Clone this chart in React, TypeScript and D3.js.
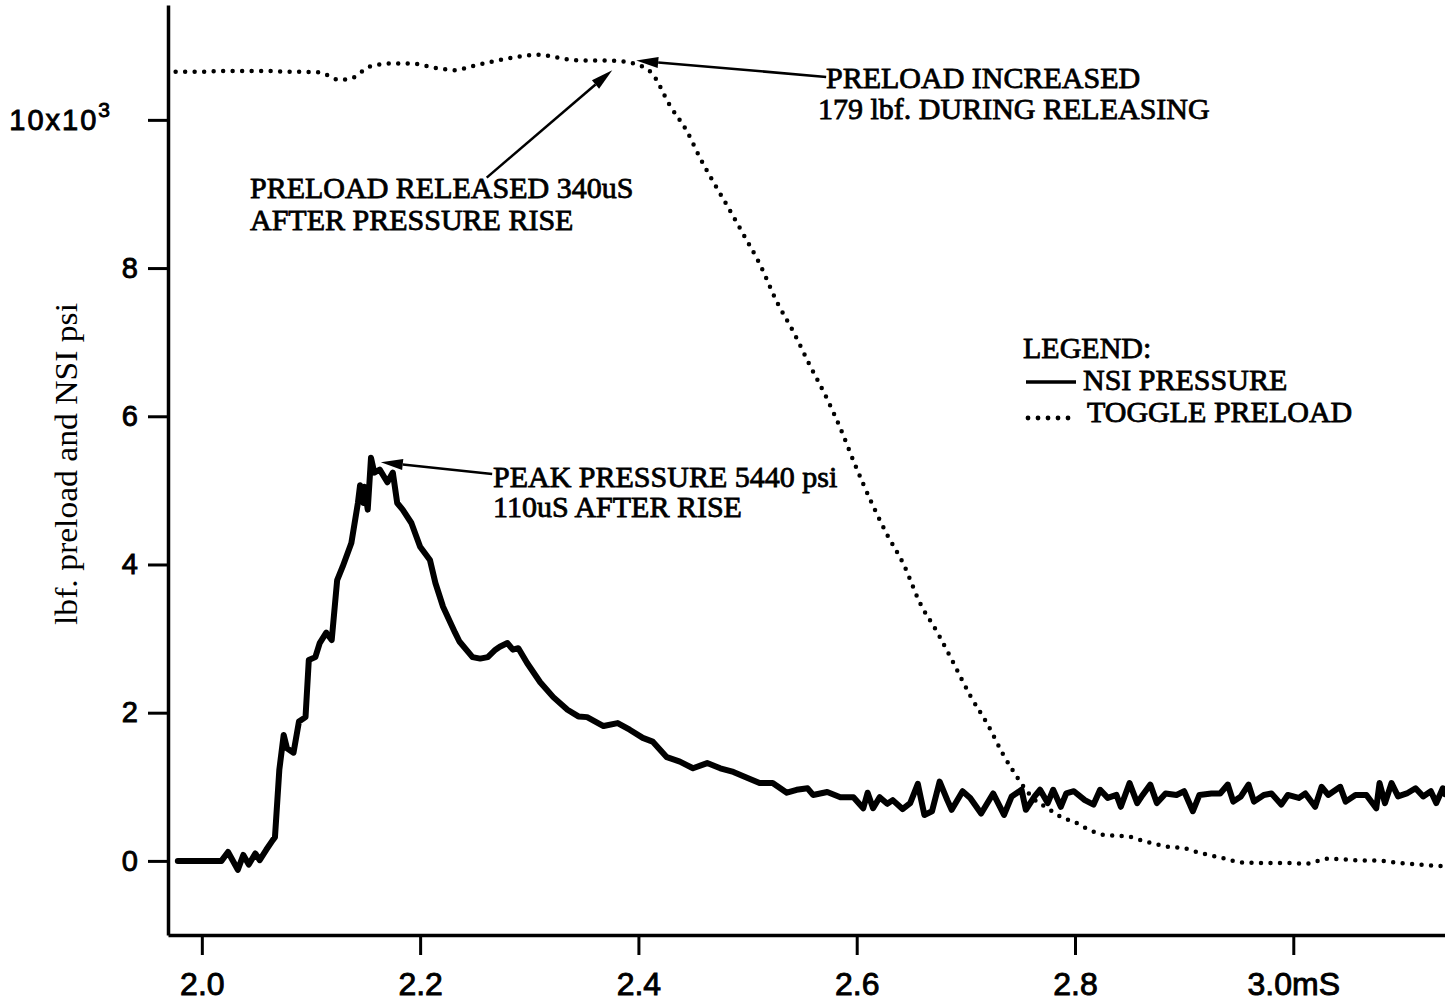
import React, { useRef, useEffect } from 'react';
import * as d3 from 'd3';

// NSI pressure trace: [time mS, pressure in 10^3 psi]
const nsiPressure: [number, number][] = [
  [1.978, 0.00], [1.998, 0.00], [2.018, 0.00], [2.024, 0.12], [2.033, -0.12], [2.038, 0.08],
  [2.043, -0.05], [2.049, 0.10], [2.053, 0.01], [2.059, 0.15], [2.065, 0.28], [2.067, 0.32],
  [2.071, 1.23], [2.075, 1.70], [2.078, 1.52], [2.084, 1.46], [2.089, 1.88], [2.095, 1.94],
  [2.098, 2.71], [2.104, 2.75], [2.108, 2.94], [2.114, 3.08], [2.119, 2.98], [2.124, 3.79],
  [2.129, 3.97], [2.137, 4.29], [2.143, 4.83], [2.145, 5.07], [2.148, 4.83], [2.149, 5.05],
  [2.152, 4.74], [2.155, 5.44], [2.158, 5.24], [2.163, 5.28], [2.170, 5.11], [2.175, 5.24],
  [2.179, 4.83], [2.184, 4.74], [2.192, 4.56], [2.200, 4.24], [2.209, 4.06], [2.214, 3.75],
  [2.221, 3.43], [2.232, 3.08], [2.236, 2.96], [2.248, 2.75], [2.255, 2.73], [2.262, 2.75],
  [2.269, 2.85], [2.273, 2.89], [2.280, 2.94], [2.285, 2.85], [2.290, 2.87], [2.298, 2.67],
  [2.310, 2.41], [2.322, 2.21], [2.335, 2.04], [2.345, 1.95], [2.353, 1.94], [2.368, 1.82],
  [2.381, 1.86], [2.392, 1.77], [2.404, 1.66], [2.413, 1.61], [2.426, 1.40], [2.438, 1.34],
  [2.450, 1.25], [2.463, 1.32], [2.475, 1.25], [2.487, 1.20], [2.500, 1.12], [2.511, 1.05],
  [2.523, 1.05], [2.536, 0.92], [2.545, 0.96], [2.555, 0.98], [2.560, 0.89], [2.573, 0.93],
  [2.585, 0.86], [2.597, 0.86], [2.606, 0.71], [2.610, 0.92], [2.615, 0.71], [2.621, 0.86],
  [2.628, 0.77], [2.633, 0.82], [2.642, 0.70], [2.649, 0.78], [2.656, 1.04], [2.662, 0.62],
  [2.669, 0.67], [2.676, 1.07], [2.683, 0.82], [2.687, 0.69], [2.697, 0.94], [2.704, 0.85],
  [2.714, 0.64], [2.725, 0.91], [2.735, 0.62], [2.742, 0.87], [2.751, 0.96], [2.755, 0.69],
  [2.763, 0.87], [2.768, 0.96], [2.775, 0.78], [2.780, 0.96], [2.787, 0.73], [2.792, 0.91],
  [2.799, 0.94], [2.809, 0.82], [2.817, 0.76], [2.823, 0.96], [2.830, 0.85], [2.838, 0.89],
  [2.842, 0.73], [2.850, 1.05], [2.857, 0.78], [2.862, 0.89], [2.869, 1.03], [2.875, 0.78],
  [2.883, 0.91], [2.893, 0.89], [2.900, 0.94], [2.908, 0.67], [2.914, 0.89], [2.925, 0.91],
  [2.933, 0.91], [2.940, 1.03], [2.945, 0.80], [2.952, 0.87], [2.959, 1.03], [2.964, 0.80],
  [2.973, 0.89], [2.980, 0.91], [2.989, 0.76], [2.995, 0.89], [3.005, 0.85], [3.011, 0.91],
  [3.020, 0.73], [3.026, 1.00], [3.032, 0.89], [3.043, 1.00], [3.048, 0.80], [3.057, 0.89],
  [3.067, 0.89], [3.076, 0.71], [3.079, 1.05], [3.084, 0.78], [3.090, 1.05], [3.096, 0.87],
  [3.104, 0.91], [3.112, 0.98], [3.119, 0.87], [3.126, 0.94], [3.131, 0.78], [3.137, 0.98],
  [3.139, 0.90],
];

// toggle preload: [time mS, preload in 10^3 lbf]
const togglePreload: [number, number][] = [
  [1.976, 10.65], [1.998, 10.65], [2.026, 10.66], [2.053, 10.66], [2.081, 10.65], [2.108, 10.64],
  [2.126, 10.54], [2.137, 10.56], [2.154, 10.72], [2.174, 10.76], [2.191, 10.76], [2.215, 10.70],
  [2.232, 10.67], [2.247, 10.72], [2.264, 10.78], [2.289, 10.85], [2.309, 10.88], [2.322, 10.85],
  [2.338, 10.81], [2.355, 10.80], [2.375, 10.80], [2.390, 10.78], [2.411, 10.65], [2.429, 10.19],
  [2.445, 9.83], [2.456, 9.50], [2.468, 9.18], [2.481, 8.85], [2.496, 8.46], [2.511, 8.06],
  [2.527, 7.54], [2.542, 7.14], [2.557, 6.69], [2.573, 6.23], [2.585, 5.84], [2.597, 5.40],
  [2.615, 4.79], [2.628, 4.40], [2.643, 4.00], [2.658, 3.48], [2.674, 3.08], [2.688, 2.69],
  [2.704, 2.23], [2.720, 1.84], [2.734, 1.44], [2.743, 1.22], [2.753, 1.00], [2.762, 0.84],
  [2.775, 0.71], [2.789, 0.58], [2.799, 0.53], [2.809, 0.45], [2.827, 0.35], [2.848, 0.33],
  [2.865, 0.26], [2.886, 0.19], [2.900, 0.17], [2.914, 0.11], [2.935, 0.04], [2.952, -0.02],
  [2.976, -0.03], [3.001, -0.03], [3.011, -0.04], [3.032, 0.03], [3.057, 0.01], [3.081, 0.00],
  [3.098, -0.03], [3.115, -0.05], [3.137, -0.07],
];

const xTicks = [2.0, 2.2, 2.4, 2.6, 2.8, 3.0];
const xTickLabels = ['2.0', '2.2', '2.4', '2.6', '2.8', '3.0mS'];
const yTicks = [0, 2, 4, 6, 8, 10];
const yTickLabels = ['0', '2', '4', '6', '8', '10x10'];

const serif = '"Liberation Serif", "Times New Roman", serif';
const sans = '"Liberation Sans", Arial, Helvetica, sans-serif';

const PreloadChart = () => {
  const d3Container = useRef(null);

  useEffect(() => {
    if (!d3Container.current) return;
    const width = 1445;
    const height = 1003;
    const plot = { left: 168, right: 1445, top: 5, bottom: 935 };

    d3.select(d3Container.current).select('svg').remove();

    const svg = d3.select(d3Container.current)
      .append('svg')
      .attr('width', width)
      .attr('height', height)
      .style('display', 'block')
      .style('background', '#fff');

    const x = d3.scaleLinear().domain([1.969, 3.139]).range([plot.left, plot.right]);
    const y = d3.scaleLinear().domain([-1.0, 11.55]).range([plot.bottom, plot.top]);

    // X axis
    const xAxis = d3.axisBottom(x)
      .tickValues(xTicks)
      .tickSize(20)
      .tickSizeOuter(0)
      .tickPadding(17)
      .tickFormat((d, i) => xTickLabels[i]);

    const gx = svg.append('g')
      .attr('transform', `translate(0, ${plot.bottom})`)
      .call(xAxis);
    gx.attr('font-family', sans).attr('font-size', 32);
    gx.select('.domain').attr('stroke-width', 3.5);
    gx.selectAll('.tick line').attr('stroke-width', 3);
    gx.selectAll('.tick text').attr('fill', '#000').attr('stroke', '#000').attr('stroke-width', 0.9);

    // Y axis
    const yAxis = d3.axisLeft(y)
      .tickValues(yTicks)
      .tickSize(20)
      .tickSizeOuter(0)
      .tickPadding(8)
      .tickFormat((d, i) => yTickLabels[i]);

    const gy = svg.append('g')
      .attr('transform', `translate(${plot.left}, 0)`)
      .call(yAxis);
    gy.attr('font-family', sans).attr('font-size', 29);
    gy.select('.domain').attr('stroke-width', 3.5);
    gy.selectAll('.tick line').attr('stroke-width', 3);
    gy.selectAll('.tick text')
      .attr('fill', '#000')
      .attr('stroke', '#000')
      .attr('stroke-width', 0.9)
      .attr('letter-spacing', 2);

    // 10x10^3 label with superscript
    const topLabel = gy.selectAll('.tick text').filter(d => d === 10);
    topLabel.attr('x', -56);
    topLabel.append('tspan').attr('dy', '-0.6em').attr('font-size', 21).text('3');

    // Y axis title
    svg.append('text')
      .attr('transform', 'translate(77, 464) rotate(-90)')
      .attr('text-anchor', 'middle')
      .attr('font-family', serif)
      .attr('font-size', 31)
      .attr('textLength', 322)
      .attr('lengthAdjust', 'spacingAndGlyphs')
      .text('lbf. preload and NSI psi');

    // Lines
    const line = d3.line<[number, number]>()
      .x(d => x(d[0]))
      .y(d => y(d[1]));

    svg.append('path')
      .datum(togglePreload)
      .attr('d', line.curve(d3.curveMonotoneX))
      .attr('fill', 'none')
      .attr('stroke', '#000')
      .attr('stroke-width', 4.5)
      .attr('stroke-linecap', 'round')
      .attr('stroke-dasharray', '0 9.5');

    svg.append('path')
      .datum(nsiPressure)
      .attr('d', line.curve(d3.curveLinear))
      .attr('fill', 'none')
      .attr('stroke', '#000')
      .attr('stroke-width', 6)
      .attr('stroke-linejoin', 'round')
      .attr('stroke-linecap', 'round');

    // Arrows
    const drawArrow = (x1, y1, x2, y2) => {
      const ang = Math.atan2(y2 - y1, x2 - x1);
      const len = 22;
      const half = 5.5;
      const bx = x2 - len * Math.cos(ang);
      const by = y2 - len * Math.sin(ang);
      svg.append('line')
        .attr('x1', x1).attr('y1', y1)
        .attr('x2', bx).attr('y2', by)
        .attr('stroke', '#000')
        .attr('stroke-width', 2.5);
      svg.append('path')
        .attr('d', `M${x2},${y2}L${bx + half * Math.sin(ang)},${by - half * Math.cos(ang)}L${bx - half * Math.sin(ang)},${by + half * Math.cos(ang)}Z`)
        .attr('fill', '#000');
    };

    drawArrow(x(2.261), y(9.22), x(2.376), y(10.67));
    drawArrow(x(2.572), y(10.58), x(2.398), y(10.80));
    drawArrow(x(2.266), y(5.22), x(2.164), y(5.38));

    // Annotation text
    const notes = [
      { x: 826, y: 88, text: 'PRELOAD INCREASED' },
      { x: 818, y: 119, text: '179 lbf. DURING RELEASING' },
      { x: 250, y: 198, text: 'PRELOAD RELEASED 340uS' },
      { x: 250, y: 230, text: 'AFTER PRESSURE RISE' },
      { x: 493, y: 487, text: 'PEAK PRESSURE 5440 psi' },
      { x: 493, y: 517, text: '110uS AFTER RISE' },
      { x: 1023, y: 358, text: 'LEGEND:' },
      { x: 1083, y: 390, text: 'NSI PRESSURE' },
      { x: 1087, y: 422, text: 'TOGGLE PRELOAD' },
    ];

    svg.selectAll('text.note')
      .data(notes)
      .enter()
      .append('text')
      .attr('class', 'note')
      .attr('x', d => d.x)
      .attr('y', d => d.y)
      .attr('font-family', serif)
      .attr('font-size', 30)
      .attr('stroke', '#000')
      .attr('stroke-width', 0.8)
      .text(d => d.text);

    // Legend symbols
    svg.append('line')
      .attr('x1', 1026).attr('x2', 1076)
      .attr('y1', 382).attr('y2', 382)
      .attr('stroke', '#000')
      .attr('stroke-width', 3.5);

    svg.selectAll('circle.legend-dot')
      .data([0, 1, 2, 3, 4])
      .enter()
      .append('circle')
      .attr('class', 'legend-dot')
      .attr('cx', d => 1028 + d * 10)
      .attr('cy', 418)
      .attr('r', 2.4)
      .attr('fill', '#000');
  }, []);

  return (
    <div ref={d3Container} style={{ position: 'absolute', left: 0, top: 0 }} />
  );
};

export default function App() {
  return <PreloadChart />;
}
